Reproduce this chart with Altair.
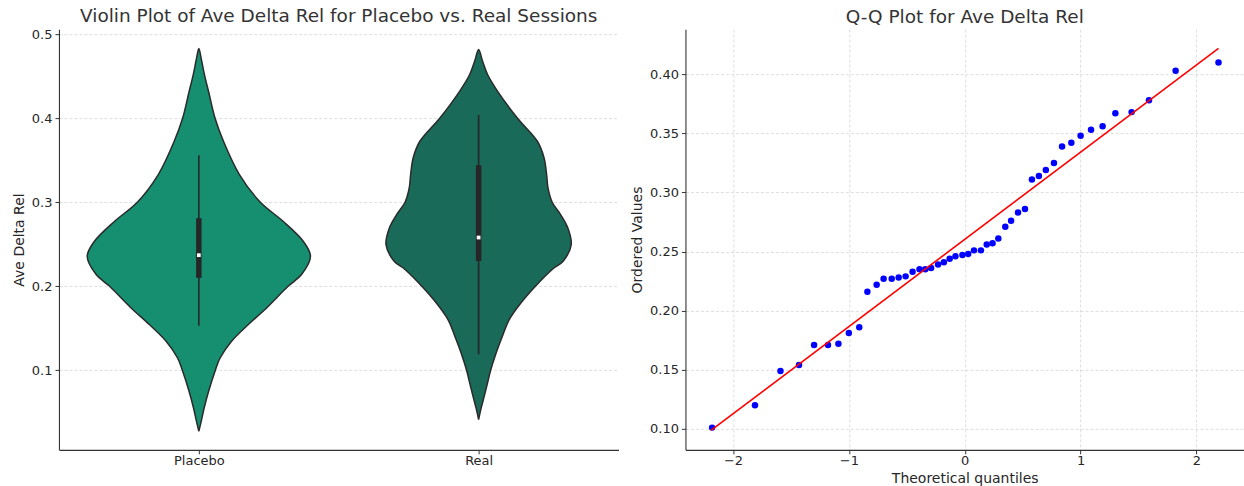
import altair as alt
import pandas as pd

# ---------------- data ----------------
groups = ["Placebo", "Real"]
group_pos = [0, 1]
fills = ["#168f71", "#1a6a5a"]

# violin outline: value along y and half-width (in category units)
placebo_v = [0.0274, 0.040, 0.0551, 0.075, 0.100, 0.1146, 0.1345, 0.1544, 0.1742, 0.200,
             0.2139, 0.2357, 0.2536, 0.2774, 0.300, 0.333, 0.3726, 0.400, 0.430, 0.452,
             0.470, 0.483]
placebo_half = [0.0, 0.009, 0.019, 0.035, 0.059, 0.076, 0.117, 0.177, 0.242, 0.319,
                0.367, 0.399, 0.373, 0.301, 0.220, 0.145, 0.088, 0.058, 0.036, 0.020,
                0.009, 0.0]

real_v = [0.0413, 0.055, 0.069, 0.085, 0.100, 0.120, 0.1405, 0.160, 0.180, 0.200,
          0.220, 0.2298, 0.2496, 0.2694, 0.2853, 0.300, 0.317, 0.333, 0.3527, 0.3726,
          0.400, 0.432, 0.452, 0.468, 0.4818]
real_half = [0.0, 0.009, 0.020, 0.032, 0.043, 0.062, 0.085, 0.109, 0.151, 0.203,
             0.263, 0.302, 0.331, 0.319, 0.293, 0.263, 0.248, 0.243, 0.234, 0.210,
             0.139, 0.068, 0.032, 0.014, 0.0]

# inner box statistics
whisk_lo = [0.153, 0.119]
box_q1 = [0.210, 0.230]
box_med = [0.237, 0.258]
box_q3 = [0.281, 0.344]
whisk_hi = [0.356, 0.404]

# Q-Q plot
qq_theoretical = [-2.18, -1.81, -1.59, -1.43, -1.30, -1.18, -1.09, -1.00, -0.91, -0.84,
                  -0.76, -0.70, -0.63, -0.57, -0.51, -0.45, -0.39, -0.34, -0.29, -0.23,
                  -0.18, -0.13, -0.08, -0.02, 0.03, 0.08, 0.14, 0.19, 0.24, 0.29,
                  0.35, 0.40, 0.46, 0.52, 0.58, 0.64, 0.70, 0.77, 0.84, 0.92,
                  1.00, 1.09, 1.19, 1.30, 1.44, 1.59, 1.82, 2.19]
qq_ordered = [0.101, 0.120, 0.149, 0.154, 0.171, 0.171, 0.172, 0.181, 0.186, 0.216,
              0.222, 0.227, 0.227, 0.228, 0.229, 0.233, 0.235, 0.235, 0.236, 0.239,
              0.241, 0.244, 0.246, 0.247, 0.248, 0.251, 0.251, 0.256, 0.257, 0.261,
              0.271, 0.276, 0.283, 0.286, 0.311, 0.314, 0.319, 0.325, 0.339, 0.342,
              0.348, 0.353, 0.356, 0.367, 0.368, 0.378, 0.403, 0.410]
fit_x = [-2.19, 2.19]
fit_y = [0.0986, 0.4220]

# ---------------- tables ----------------
def outline(pos, vs, hs):
    # closed outline: up the right side, then down the left side
    pts = []
    k = 0
    for v, h in zip(vs, hs):
        pts.append({"k": k, "x": pos + h, "v": v}); k += 1
    for v, h in list(zip(vs, hs))[::-1][1:]:
        pts.append({"k": k, "x": pos - h, "v": v}); k += 1
    return pd.DataFrame(pts)

placebo_df = outline(group_pos[0], placebo_v, placebo_half)
real_df = outline(group_pos[1], real_v, real_half)

box_df = pd.DataFrame({"group": groups, "pos": group_pos, "lo": whisk_lo, "q1": box_q1,
                       "med": box_med, "q3": box_q3, "hi": whisk_hi})
qq_df = pd.DataFrame({"tq": qq_theoretical, "ov": qq_ordered})
fit_df = pd.DataFrame({"tq": fit_x, "ov": fit_y})

FONT = "DejaVu Sans"
TXT = "#262626"
GRID = dict(gridColor="#d0d0d0", gridDash=[3, 2], gridWidth=0.7)
AX = dict(labelFont=FONT, titleFont=FONT, labelFontSize=13, titleFontSize=14,
          labelColor=TXT, titleColor=TXT, titleFontWeight="normal",
          domainColor="#333333", tickColor="#333333", tickSize=4, domainWidth=1.1)

W, H = 560, 421

# ---------------- left: violin ----------------
xs_v = alt.Scale(domain=[-0.5, 1.5], nice=False, zero=False)
ys_v = alt.Scale(domain=[0.0053, 0.506], nice=False, zero=False)
label_expr = " : ".join([f"datum.value == {p} ? '{g}'" for p, g in zip(group_pos, groups)]) + " : ''"

x_axis_v = alt.Axis(values=group_pos, labelExpr=label_expr, grid=False, title=None,
                    labelPadding=1, **AX)
y_axis_v = alt.Axis(values=[0.1, 0.2, 0.3, 0.4, 0.5], format=".1f", title="Ave Delta Rel",
                    grid=True, titlePadding=5, labelPadding=3, **GRID, **AX)


def violin_layer(df, fill):
    return alt.Chart(df).mark_line(interpolate="catmull-rom", fill=fill, stroke="#2a2a2a",
                                   strokeWidth=1.5, fillOpacity=1).encode(
        x=alt.X("x:Q", scale=xs_v, axis=x_axis_v),
        y=alt.Y("v:Q", scale=ys_v, axis=y_axis_v),
        order=alt.Order("k:Q"),
    )


v_placebo = violin_layer(placebo_df, fills[0])
v_real = violin_layer(real_df, fills[1])

whisk = alt.Chart(box_df).mark_rule(color="#262626", strokeWidth=1.6).encode(
    x=alt.X("pos:Q", scale=xs_v, axis=x_axis_v),
    y=alt.Y("lo:Q", scale=ys_v, axis=y_axis_v), y2="hi:Q")
box = alt.Chart(box_df).mark_rule(color="#262626", strokeWidth=5.5).encode(
    x=alt.X("pos:Q", scale=xs_v, axis=x_axis_v),
    y=alt.Y("q1:Q", scale=ys_v, axis=y_axis_v), y2="q3:Q")
med = alt.Chart(box_df).mark_square(color="white", size=14, opacity=1).encode(
    x=alt.X("pos:Q", scale=xs_v, axis=x_axis_v),
    y=alt.Y("med:Q", scale=ys_v, axis=y_axis_v))

left = alt.layer(v_placebo, v_real, whisk, box, med).properties(
    width=W, height=H,
    title=alt.Title("Violin Plot of Ave Delta Rel for Placebo vs. Real Sessions",
                    font=FONT, fontSize=18.5, fontWeight="normal", color="#333333",
                    frame="group", anchor="middle", offset=3))

# ---------------- right: Q-Q ----------------
xs_q = alt.Scale(domain=[-2.41, 2.41], nice=False, zero=False)
ys_q = alt.Scale(domain=[0.0822, 0.4382], nice=False, zero=False)
x_axis_q = alt.Axis(values=[-2, -1, 0, 1, 2], format="d", title="Theoretical quantiles",
                    grid=True, labelPadding=1, titlePadding=4, **GRID, **AX)
y_axis_q = alt.Axis(values=[0.10, 0.15, 0.20, 0.25, 0.30, 0.35, 0.40], format=".2f",
                    title="Ordered Values", grid=True, labelPadding=3, titlePadding=5,
                    **GRID, **AX)

pts = alt.Chart(qq_df).mark_circle(color="#0000ff", size=42, opacity=1).encode(
    x=alt.X("tq:Q", scale=xs_q, axis=x_axis_q),
    y=alt.Y("ov:Q", scale=ys_q, axis=y_axis_q))
fit = alt.Chart(fit_df).mark_line(color="#ff0000", strokeWidth=1.6).encode(
    x=alt.X("tq:Q", scale=xs_q, axis=x_axis_q),
    y=alt.Y("ov:Q", scale=ys_q, axis=y_axis_q))

right = alt.layer(pts, fit).properties(
    width=W - 1, height=H,
    title=alt.Title("Q-Q Plot for Ave Delta Rel", font=FONT, fontSize=18.5,
                    fontWeight="normal", color="#333333", frame="group",
                    anchor="middle", offset=3))

chart = alt.hconcat(left, right, spacing=12).properties(
    padding={"left": 12, "top": 6, "right": 0, "bottom": 0},
    background="white",
).configure_view(stroke=None)

chart.save("out.html", embed_options={"renderer": "svg", "actions": False})
